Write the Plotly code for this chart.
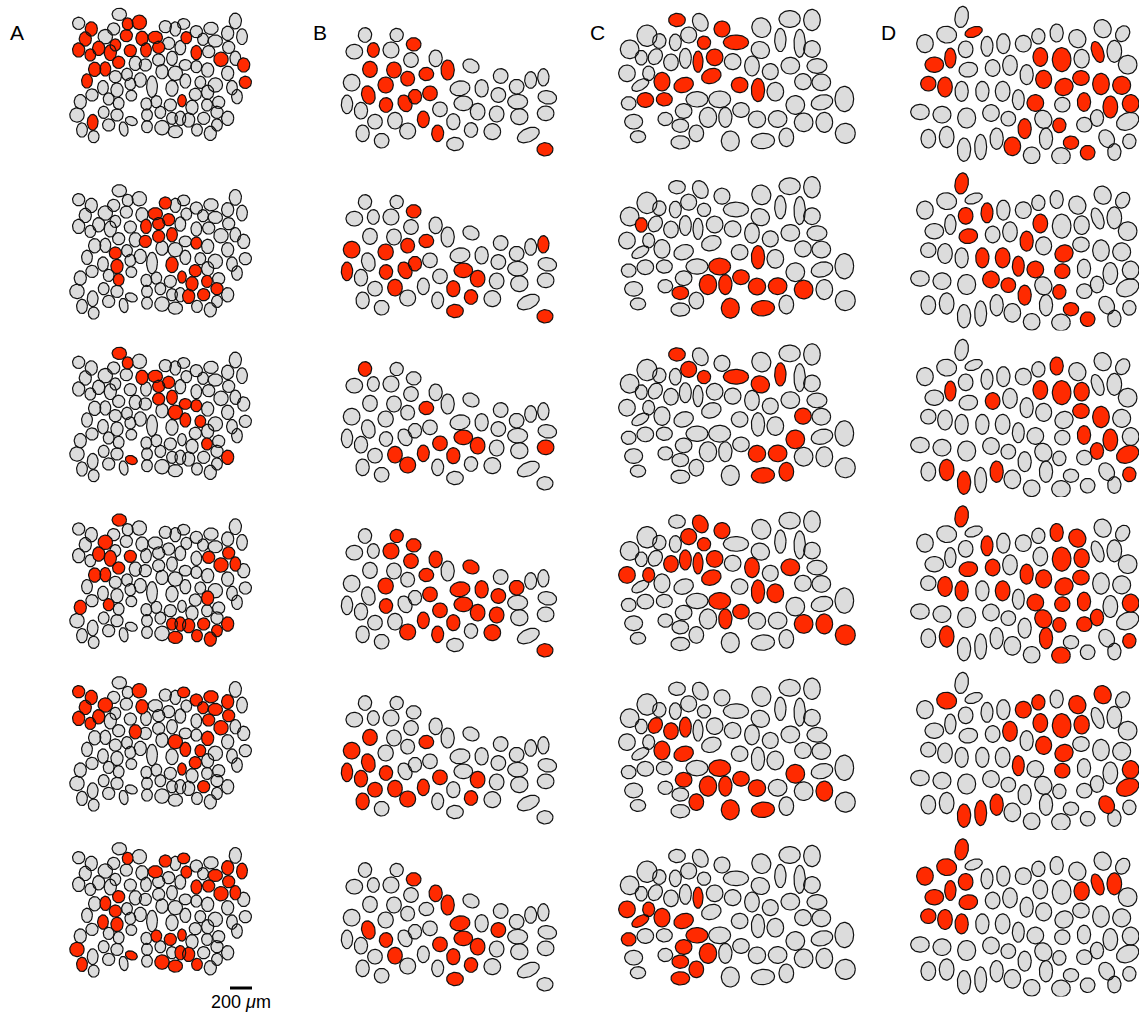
import numpy as np
import plotly.graph_objects as go

# ---------------------------------------------------------------------------
# Cell maps (map units, y grows downward). Each column shows one field of view;
# the six rows reuse that field and highlight a different ensemble of cells.
# Tuples: centre x, centre y, half-width, half-height, tilt (deg)
# ---------------------------------------------------------------------------
cells_a = [
    (172, 28, 20, 17, 0), (50, 55, 17, 17, 0), (88, 72, 17, 20, 0), (155, 72, 17, 17, 0),
    (197, 57, 15, 17, 0), (232, 52, 20, 20, 0), (310, 65, 17, 17, 0), (340, 72, 15, 20, 0),
    (365, 57, 17, 15, 0), (403, 80, 17, 17, 0), (447, 70, 20, 17, 0), (497, 85, 17, 20, 0),
    (520, 48, 17, 22, 0), (540, 95, 15, 22, 0), (70, 102, 17, 20, 0), (130, 95, 20, 20, 0),
    (193, 92, 17, 17, 0), (240, 100, 17, 20, 0), (280, 97, 20, 17, 0), (320, 115, 17, 17, 0),
    (373, 98, 15, 17, 0), (423, 103, 15, 17, 0), (460, 108, 20, 17, 0), (50, 135, 17, 20, 0),
    (110, 130, 17, 20, 0), (160, 120, 15, 17, 0), (205, 137, 17, 17, 0), (252, 135, 15, 20, 0),
    (290, 127, 17, 17, 0), (355, 128, 15, 20, 0), (403, 143, 15, 20, 0), (440, 140, 17, 17, 0),
    (500, 127, 17, 17, 0), (85, 150, 15, 17, 0), (145, 143, 17, 22, 0), (170, 172, 17, 17, 0),
    (220, 175, 17, 20, 0), (250, 180, 17, 17, 0), (290, 165, 17, 17, 0), (330, 160, 15, 20, 0),
    (370, 180, 17, 15, 0), (403, 185, 15, 17, 0), (437, 195, 17, 20, 0), (477, 163, 20, 20, 0),
    (520, 160, 15, 20, 0), (545, 180, 17, 20, 0), (98, 193, 17, 20, 0), (130, 192, 15, 20, 0),
    (75, 228, 15, 20, 0), (160, 215, 17, 17, 0), (195, 208, 15, 17, 0), (235, 225, 17, 20, 0),
    (270, 245, 15, 30, 0), (300, 200, 17, 20, 0), (340, 205, 20, 20, 0), (370, 228, 15, 20, 0),
    (415, 232, 15, 17, 0), (460, 240, 20, 20, 0), (497, 205, 17, 20, 0), (550, 232, 17, 17, 0),
    (123, 248, 15, 20, 0), (165, 255, 17, 20, 0), (205, 237, 15, 17, 0), (330, 250, 17, 22, 0),
    (400, 268, 17, 17, 0), (437, 262, 17, 20, 0), (510, 248, 15, 20, 0), (90, 270, 17, 17, 0),
    (140, 282, 15, 17, 0), (208, 272, 15, 15, 0), (253, 297, 15, 17, 0), (283, 290, 15, 17, 0),
    (325, 300, 17, 17, 0), (360, 287, 12, 17, 0), (390, 307, 17, 20, 0), (435, 300, 15, 17, 0),
    (470, 292, 17, 17, 0), (525, 275, 15, 20, 0), (55, 290, 17, 20, 0), (170, 295, 15, 17, 0),
    (45, 330, 20, 20, 0), (125, 322, 15, 17, 0), (165, 330, 17, 17, 0), (208, 348, 17, 12, 20),
    (255, 330, 15, 17, 0), (295, 322, 15, 17, 0), (330, 340, 15, 17, 0), (355, 340, 15, 20, 0),
    (380, 345, 17, 20, 0), (425, 340, 17, 17, 0), (465, 322, 17, 17, 0), (497, 340, 17, 20, 0),
    (92, 352, 15, 22, 0), (140, 360, 17, 17, 0), (185, 372, 12, 20, -10), (255, 365, 15, 17, 0),
    (300, 368, 20, 20, 0), (340, 380, 20, 17, 0), (405, 375, 15, 17, 0), (445, 385, 17, 20, 0),
    (465, 360, 15, 17, 0), (60, 375, 15, 20, 0), (95, 395, 15, 17, 0),
]

cells_b = [
    (90, 45, 20, 22, 0), (185, 45, 20, 20, 0), (58, 95, 25, 22, 0), (115, 90, 18, 22, 0),
    (168, 90, 24, 24, 0), (236, 73, 22, 20, 0), (228, 120, 22, 22, 0), (302, 115, 20, 25, 0),
    (105, 148, 22, 24, 0), (177, 150, 22, 24, 0), (218, 176, 21, 22, 0), (274, 162, 22, 20, 0),
    (338, 150, 20, 30, 0), (408, 138, 25, 20, 25), (50, 188, 25, 25, 0), (152, 195, 23, 24, 0),
    (100, 225, 20, 28, -15), (240, 230, 20, 22, 0), (285, 220, 22, 22, 0), (375, 205, 30, 22, -10),
    (440, 205, 20, 26, 0), (497, 168, 22, 22, 0), (545, 200, 22, 22, 0), (587, 180, 18, 25, 0),
    (625, 172, 17, 26, 0), (36, 253, 17, 28, 0), (78, 272, 20, 25, 0), (153, 255, 20, 22, 0),
    (210, 250, 20, 26, -25), (385, 250, 28, 22, 0), (490, 225, 22, 22, 0), (548, 245, 30, 22, 0),
    (637, 232, 28, 20, 10), (120, 305, 22, 22, 0), (180, 302, 22, 25, 0), (265, 298, 18, 25, 0),
    (315, 268, 22, 22, 0), (428, 275, 22, 25, 0), (485, 282, 22, 24, 0), (553, 290, 26, 24, 0),
    (632, 280, 25, 22, 0), (83, 340, 20, 25, 0), (218, 333, 24, 24, 0), (308, 340, 18, 25, 0),
    (355, 305, 20, 24, 0), (408, 330, 20, 22, 0), (472, 335, 25, 24, 0), (140, 362, 22, 22, 0),
    (360, 372, 25, 20, 0), (580, 345, 35, 20, -25), (630, 388, 24, 20, 0),
]

cells_c = [
    (195, 45, 25, 20, 0), (265, 52, 22, 28, -30), (330, 72, 24, 24, 0), (105, 92, 30, 32, 0),
    (142, 108, 20, 22, 0), (230, 90, 24, 24, 0), (190, 112, 18, 25, 0), (276, 113, 20, 20, 0),
    (372, 112, 38, 22, 0), (448, 68, 28, 30, -30), (533, 42, 32, 25, 0), (600, 45, 25, 32, 0),
    (505, 105, 17, 35, 0), (563, 115, 17, 42, 0), (600, 132, 25, 25, 0), (53, 133, 28, 28, 0),
    (88, 158, 18, 22, 0), (130, 155, 20, 25, 30), (177, 172, 22, 25, 0), (220, 160, 18, 30, 0),
    (258, 170, 15, 32, 0), (308, 157, 25, 25, 0), (362, 170, 25, 24, 0), (445, 135, 28, 25, 25),
    (420, 183, 22, 30, 0), (475, 200, 24, 24, 0), (535, 182, 28, 25, 0), (615, 183, 30, 22, 0),
    (45, 205, 25, 25, 0), (110, 205, 18, 22, 0), (85, 240, 28, 15, -30), (150, 230, 24, 28, 0),
    (215, 240, 30, 22, -20), (298, 213, 30, 22, -20), (383, 240, 25, 23, 0), (438, 255, 20, 35, 0),
    (490, 260, 25, 28, 0), (573, 230, 25, 24, 0), (628, 232, 28, 25, 0), (50, 295, 22, 20, 0),
    (100, 285, 25, 22, 0), (157, 283, 24, 20, 0), (255, 283, 33, 23, 0), (323, 283, 33, 25, 0),
    (550, 300, 28, 28, 0), (630, 292, 33, 22, -15), (697, 282, 28, 38, 0), (215, 318, 25, 22, 0),
    (160, 342, 22, 20, 0), (288, 337, 26, 30, 0), (340, 337, 20, 30, 0), (387, 315, 25, 22, 0),
    (435, 343, 26, 25, 0), (497, 342, 28, 25, 0), (575, 352, 28, 28, 0), (637, 352, 25, 30, 0),
    (65, 350, 27, 22, 0), (205, 362, 25, 20, 0), (253, 385, 22, 25, 0), (78, 395, 23, 18, 0),
    (205, 412, 28, 20, 0), (355, 408, 27, 30, 0), (453, 408, 35, 23, -5), (523, 397, 22, 28, 0),
    (700, 385, 30, 30, 0),
]

cells_d = [
    (170, 45, 20, 32, 10), (125, 98, 30, 25, 10), (206, 90, 27, 15, -20), (60, 125, 25, 27, 0),
    (182, 142, 22, 25, 0), (246, 133, 18, 30, 0), (295, 125, 20, 30, 0), (355, 125, 24, 25, 0),
    (400, 103, 20, 23, 0), (455, 93, 20, 27, 0), (517, 110, 25, 28, -30), (593, 80, 25, 28, -30),
    (653, 95, 20, 25, 30), (88, 188, 28, 23, 0), (136, 168, 17, 30, 0), (190, 203, 28, 22, -10),
    (263, 198, 22, 25, 0), (315, 190, 22, 30, 0), (365, 218, 20, 30, 0), (406, 165, 22, 28, 0),
    (470, 173, 28, 36, 0), (530, 170, 23, 28, 0), (578, 150, 17, 33, -20), (628, 148, 22, 33, 0),
    (668, 188, 28, 28, 0), (70, 245, 23, 22, 0), (120, 255, 22, 30, 0), (170, 268, 20, 30, 0),
    (232, 268, 20, 30, 0), (293, 268, 22, 30, 0), (340, 293, 18, 30, 0), (416, 232, 24, 27, 0),
    (477, 255, 28, 25, -30), (528, 228, 25, 22, 0), (588, 246, 25, 32, 0), (650, 250, 27, 27, 0),
    (45, 330, 28, 23, 0), (111, 338, 27, 25, 0), (185, 348, 27, 30, 0), (258, 333, 25, 25, 0),
    (310, 350, 22, 22, 0), (391, 303, 25, 25, 0), (472, 308, 23, 22, 0), (537, 300, 20, 28, 0),
    (616, 315, 22, 33, 0), (677, 305, 25, 27, 0), (415, 352, 25, 28, -30), (359, 380, 20, 30, 0),
    (463, 370, 20, 22, 0), (538, 368, 23, 22, 0), (576, 348, 20, 25, 0), (668, 358, 35, 25, -25),
    (70, 410, 22, 28, 0), (125, 405, 22, 32, 0), (177, 443, 20, 35, 0), (227, 435, 18, 38, 0),
    (275, 410, 20, 32, 0), (322, 433, 25, 28, 0), (380, 460, 25, 25, 0), (423, 410, 20, 32, 0),
    (498, 422, 23, 20, 0), (468, 462, 28, 25, 0), (548, 452, 22, 22, 0), (605, 410, 22, 28, -30),
    (628, 450, 20, 25, 0), (673, 418, 20, 22, 0),
]

# Highlighted (active) cells per row, 1-based indices into the cell lists
red_a = [
    [3, 5, 6, 15, 17, 18, 19, 21, 24, 25, 26, 27, 28, 29, 31, 34, 35, 36, 44, 46, 47, 48, 49, 60, 74, 93],
    [7, 19, 20, 28, 29, 38, 39, 40, 42, 50, 62, 64, 65, 74, 75, 76, 80, 89, 90, 91],
    [1, 5, 18, 19, 20, 29, 39, 40, 41, 42, 55, 56, 57, 76, 84, 92],
    [1, 16, 25, 27, 32, 33, 35, 36, 44, 45, 47, 48, 66, 69, 79, 87, 88, 89, 90, 92, 98, 99, 100, 101],
    [2, 3, 6, 9, 10, 11, 12, 15, 16, 18, 22, 23, 24, 25, 32, 33, 34, 37, 43, 44, 55, 56, 57, 65, 74, 90],
    [5, 7, 9, 12, 14, 19, 21, 23, 31, 32, 33, 36, 44, 45, 48, 50, 61, 62, 72, 73, 74, 81, 84, 88, 89, 97, 98, 99, 102],
]
red_b = [
    [4, 6, 9, 10, 11, 12, 13, 16, 17, 18, 19, 28, 29, 36, 44, 51],
    [6, 11, 12, 15, 16, 18, 25, 26, 28, 29, 30, 35, 38, 45, 46, 49, 51],
    [1, 12, 30, 35, 36, 37, 38, 41, 43, 45],
    [2, 5, 6, 7, 8, 12, 14, 16, 19, 20, 21, 23, 28, 30, 31, 36, 37, 38, 39, 43, 44, 45, 47, 51],
    [9, 12, 15, 17, 26, 27, 28, 34, 35, 36, 37, 38, 42, 43, 46],
    [6, 8, 13, 17, 20, 28, 30, 31, 35, 37, 38, 45, 46, 49],
]
red_c = [
    [1, 3, 8, 9, 21, 22, 32, 33, 34, 35, 36, 41, 42],
    [17, 36, 44, 50, 51, 52, 53, 54, 55, 58, 62, 63],
    [1, 6, 8, 9, 13, 24, 38, 45, 53, 54, 63, 64],
    [2, 3, 6, 8, 19, 20, 21, 22, 25, 27, 29, 30, 34, 36, 37, 44, 51, 52, 55, 56, 65],
    [18, 19, 20, 32, 33, 44, 45, 48, 50, 51, 52, 53, 56, 59, 62, 63],
    [21, 29, 30, 31, 32, 33, 40, 43, 48, 50, 58, 59, 61],
]
red_d = [
    [3, 14, 15, 20, 21, 23, 26, 27, 32, 33, 34, 35, 36, 42, 44, 45, 46, 48, 49, 58, 61, 63],
    [1, 5, 6, 16, 19, 20, 29, 30, 31, 33, 40, 41, 42, 43, 48, 49, 61, 63],
    [10, 15, 17, 20, 21, 22, 34, 35, 44, 45, 51, 52, 54, 55, 57, 66],
    [1, 6, 10, 11, 16, 17, 19, 21, 22, 27, 28, 30, 32, 33, 34, 42, 43, 44, 46, 47, 49, 50, 51, 54, 60, 62, 66],
    [2, 8, 9, 11, 12, 18, 20, 21, 22, 31, 32, 33, 43, 46, 52, 55, 56, 57, 64],
    [1, 2, 4, 5, 14, 15, 16, 22, 23, 24, 26, 27, 28],
]

panel_labels = ["A", "B", "C", "D"]

# Page layout of each column (pixels): left edge, panel size, top edge of each row,
# and a size factor for the drawn cell bodies
W, H = 1139, 1017
columns = [
    dict(cells=cells_a, red=red_a, left=62, w=195, h=145, grow=1.08,
         tops=[5, 181.4, 344, 510.7, 673.4, 839.4], label_x=17),
    dict(cells=cells_b, red=red_b, left=335, w=225, h=140, grow=1.0,
         tops=[20, 187, 354, 521, 688, 855], label_x=320),
    dict(cells=cells_c, red=red_c, left=612, w=250, h=150, grow=1.0,
         tops=[5, 172.2, 339.4, 506.6, 673.8, 841], label_x=597),
    dict(cells=cells_d, red=red_d, left=905, w=234, h=162, grow=1.0,
         tops=[2, 168.5, 335, 501.5, 668, 834.5], label_x=888),
]
UNITS_PER_PX = 3  # map units per screen pixel

GRAY = "#dcdcdc"
RED = "#ff2a00"
EDGE = "#111111"

t = np.linspace(0, 2 * np.pi, 48)


def outline(cell_list, grow):
    """Polygon outlines for a list of ellipses, separated by None."""
    xs, ys = [], []
    for cx, cy, rx, ry, tilt in cell_list:
        a = np.deg2rad(tilt)
        ex = grow * rx * np.cos(t)
        ey = grow * ry * np.sin(t)
        xs.extend((cx + ex * np.cos(a) - ey * np.sin(a)).tolist() + [None])
        ys.extend((cy + ex * np.sin(a) + ey * np.cos(a)).tolist() + [None])
    return xs, ys


fig = go.Figure()
layout_axes = {}
k = 0
for col in columns:
    cells = col["cells"]
    for r, top in enumerate(col["tops"]):
        k += 1
        suffix = "" if k == 1 else str(k)
        active = set(col["red"][r])
        gray_cells = [c for i, c in enumerate(cells, start=1) if i not in active]
        red_cells = [c for i, c in enumerate(cells, start=1) if i in active]
        for group, colour in ((gray_cells, GRAY), (red_cells, RED)):
            if not group:
                continue
            xs, ys = outline(group, col["grow"])
            fig.add_trace(go.Scatter(
                x=xs, y=ys, mode="lines", fill="toself", fillcolor=colour,
                line=dict(color=EDGE, width=1.2), hoverinfo="skip",
                showlegend=False, xaxis="x" + suffix, yaxis="y" + suffix,
            ))
        x0 = col["left"] / W
        x1 = (col["left"] + col["w"]) / W
        y1 = 1 - top / H
        y0 = 1 - (top + col["h"]) / H
        layout_axes["xaxis" + suffix] = dict(
            domain=[x0, x1], range=[0, col["w"] * UNITS_PER_PX], visible=False,
            fixedrange=True, anchor="y" + suffix)
        layout_axes["yaxis" + suffix] = dict(
            domain=[y0, y1], range=[col["h"] * UNITS_PER_PX, 0], visible=False,
            fixedrange=True, anchor="x" + suffix)

annotations = [
    dict(text=lab, x=col["label_x"] / W, y=1 - 32 / H, xref="paper", yref="paper",
         showarrow=False, xanchor="center", yanchor="middle",
         font=dict(family="Liberation Sans, Arial, sans-serif", size=21, color="black"))
    for lab, col in zip(panel_labels, columns)
]
annotations.append(dict(
    text="200 <i>μ</i>m", x=241 / W, y=1 - 1002 / H, xref="paper", yref="paper",
    showarrow=False, xanchor="center", yanchor="middle",
    font=dict(family="Liberation Sans, Arial, sans-serif", size=18, color="black")))

# 200 µm scale bar under the last panel of column A
shapes = [dict(type="line", xref="paper", yref="paper",
               x0=230 / W, x1=252 / W, y0=1 - 988 / H, y1=1 - 988 / H,
               line=dict(color="black", width=3))]

fig.update_layout(
    width=W, height=H, autosize=False,
    margin=dict(l=0, r=0, t=0, b=0),
    paper_bgcolor="white", plot_bgcolor="white",
    annotations=annotations, shapes=shapes,
    **layout_axes,
)

fig.write_html("out.html", config=dict(displayModeBar=False))
